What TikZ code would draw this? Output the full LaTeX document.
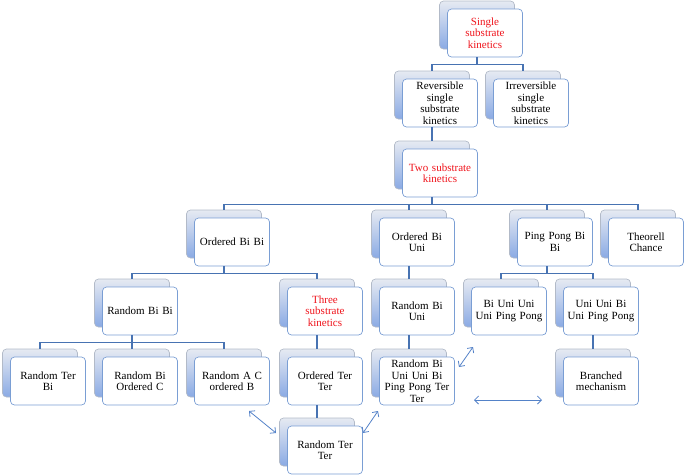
\documentclass[tikz,border=0pt]{standalone}
\usepackage{fontspec}
\setmainfont{Liberation Serif}
\usetikzlibrary{arrows.meta, shadows}

\definecolor{boxline}{RGB}{122,158,212}
\definecolor{backline}{RGB}{178,186,200}
\definecolor{backtop}{RGB}{230,234,242}
\definecolor{backbot}{RGB}{138,170,228}
\definecolor{connblue}{RGB}{72,115,178}
\definecolor{arrblue}{RGB}{84,130,200}
\definecolor{hotred}{RGB}{240,20,28}

\begin{document}
\begin{tikzpicture}[
    x=1pt, y=-1pt,
    kin/.style={draw=boxline, fill=white, rounded corners=4pt, line width=0.7pt,
      minimum width=75pt, minimum height=48pt, text width=72pt, align=center,
      inner sep=1pt, font={\fontsize{11}{11.5}\selectfont},
      general shadow={shadow xshift=-8pt, shadow yshift=8pt, draw=backline,
        top color=backtop, bottom color=backbot}},
    hot/.style={kin, text=hotred},
    conn/.style={draw=connblue, line width=1.6pt},
    link/.style={draw=arrblue, line width=0.8pt,
      {Straight Barb[length=4pt]}-{Straight Barb[length=4pt]}}
  ]
  \useasboundingbox (0,0) rectangle (685,475);

  % boxes
  \node[hot] (single) at (485,33) {Single\\substrate\\kinetics};
  \node[kin] (rev) at (440,103) {Reversible\\single\\substrate\\kinetics};
  \node[kin] (irr) at (531,103) {Irreversible\\single\\substrate\\kinetics};
  \node[hot] (two) at (440,173) {Two substrate\\kinetics};
  \node[kin] (obb) at (232,242) {Ordered Bi Bi};
  \node[kin] (obu) at (417,242) {Ordered Bi\\Uni};
  \node[kin] (ppbb) at (555,242) {Ping Pong Bi\\Bi};
  \node[kin] (theo) at (646,242) {Theorell\\Chance};
  \node[kin] (rbb) at (140,311) {Random Bi Bi};
  \node[hot] (three) at (325,311) {Three\\substrate\\kinetics};
  \node[kin] (rbu) at (417,311) {Random Bi\\Uni};
  \node[kin] (buuu) at (509,311) {Bi Uni Uni\\Uni Ping Pong};
  \node[kin] (uubu) at (601,311) {Uni Uni Bi\\Uni Ping Pong};
  \node[kin] (rtb) at (48,381) {Random Ter\\Bi};
  \node[kin] (rboc) at (140,381) {Random Bi\\Ordered C};
  \node[kin] (racb) at (232,381) {Random A C\\ordered B};
  \node[kin] (ott) at (325,381) {Ordered Ter\\Ter};
  \node[kin] (rbuu) at (417,381) {Random Bi\\Uni Uni Bi\\Ping Pong Ter\\Ter};
  \node[kin] (bran) at (601,381) {Branched\\mechanism};
  \node[kin] (rtt) at (325,450) {Random Ter\\Ter};

  % tree connectors
  \foreach \p/\c in {single/rev, single/irr, rev/two,
      two/obb, two/obu, two/ppbb, two/theo,
      obb/rbb, obb/three, obu/rbu, ppbb/buuu, ppbb/uubu,
      rbb/rtb, rbb/rboc, rbb/racb, three/ott, ott/rtt,
      rbu/rbuu, uubu/bran}
    \draw[conn] ([xshift=-8pt]\p.south) -- ++(0,7) -| ([xshift=-8pt,yshift=8pt]\c.north);

  % double arrows
  \coordinate (l1a) at (249,411);
  \coordinate (l1b) at (276,433);
  \coordinate (l2a) at (363,433);
  \coordinate (l2b) at (378,411);
  \coordinate (l3a) at (459,367);
  \coordinate (l3b) at (473,347);
  \coordinate (l4a) at (474,400);
  \coordinate (l4b) at (542,400);
  \draw[link] (l1a) -- (l1b);
  \draw[link] (l2a) -- (l2b);
  \draw[link] (l3a) -- (l3b);
  \draw[link] (l4a) -- (l4b);
\end{tikzpicture}
\end{document}
